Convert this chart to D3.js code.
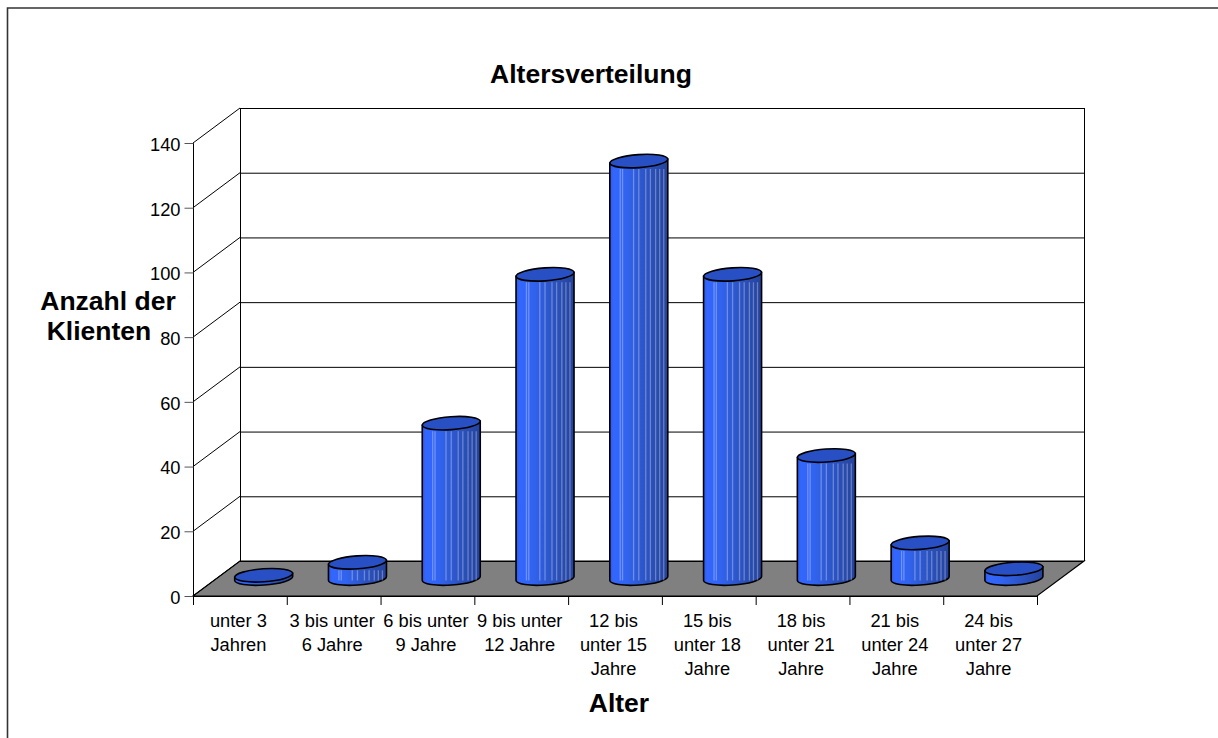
<!DOCTYPE html>
<html>
<head>
<meta charset="utf-8">
<style>
  html, body { margin: 0; padding: 0; background: #fff; overflow: hidden; }
  text { font-family: "Liberation Sans", Arial, sans-serif; fill: #000; }
</style>
<script src="https://cdn.jsdelivr.net/npm/d3@7"></script>
</head>
<body>
<svg id="chart" width="1218" height="738"></svg>
<script>
const categories = [
  ['unter 3', 'Jahren'],
  ['3 bis unter', '6 Jahre'],
  ['6 bis unter', '9 Jahre'],
  ['9 bis unter', '12 Jahre'],
  ['12 bis', 'unter 15', 'Jahre'],
  ['15 bis', 'unter 18', 'Jahre'],
  ['18 bis', 'unter 21', 'Jahre'],
  ['21 bis', 'unter 24', 'Jahre'],
  ['24 bis', 'unter 27', 'Jahre']
];
const values = [1, 5, 48, 94, 129, 94, 38, 11, 3];
const yTicks = [0, 20, 40, 60, 80, 100, 120, 140];

// front edge of the box, the back wall sits depth px up and to the right
const front = { left: 193, right: 1037, bottom: 596, top: 143 };
const depth = { x: 47, y: 35 };

const x = d3.scaleBand().domain(d3.range(categories.length)).range([front.left, front.right]);
const y = d3.scaleLinear().domain([0, 140]).range([front.bottom, front.top]);

const svg = d3.select('#chart');

// only the top and left edge of the frame are inside the picture
svg.append('path')
  .attr('d', 'M7.5,738V8H1218')
  .attr('fill', 'none').attr('stroke', '#333').attr('stroke-width', 1.6);

// horizontal shading of the cylinders
const stops = [
  [0, '#2f5ae0'], [0.06, '#3366ff'], [0.3, '#3163ee'], [0.55, '#2d57cc'], [0.8, '#294cb0'], [1, '#24429c']
];
const defs = svg.append('defs');
const grad = defs.append('linearGradient').attr('id', 'barFill');
grad.selectAll('stop').data(stops).join('stop')
  .attr('offset', d => d[0]).attr('stop-color', d => d[1]);

// floor
svg.append('path')
  .attr('d', d3.line()([
    [front.left, front.bottom],
    [front.left + depth.x, front.bottom - depth.y],
    [front.right + depth.x, front.bottom - depth.y],
    [front.right, front.bottom]
  ]) + 'Z')
  .attr('fill', '#808080').attr('stroke', '#000').attr('stroke-width', 1.2);

// walls
const grid = svg.append('g').attr('fill', 'none').attr('stroke', '#000').attr('stroke-width', 1);
grid.selectAll('.back').data(yTicks).join('line').attr('class', 'back')
  .attr('x1', front.left + depth.x).attr('x2', front.right + depth.x)
  .attr('y1', d => y(d) - depth.y + 0.5).attr('y2', d => y(d) - depth.y + 0.5);
grid.selectAll('.side').data(yTicks).join('line').attr('class', 'side')
  .attr('x1', front.left).attr('x2', front.left + depth.x)
  .attr('y1', d => y(d)).attr('y2', d => y(d) - depth.y);
grid.append('line')
  .attr('x1', front.left + depth.x + 0.5).attr('x2', front.left + depth.x + 0.5)
  .attr('y1', y(140) - depth.y).attr('y2', y(0) - depth.y);
grid.append('line')
  .attr('x1', front.right + depth.x + 0.5).attr('x2', front.right + depth.x + 0.5)
  .attr('y1', y(140) - depth.y).attr('y2', y(0) - depth.y);

// axes
const axisY = d3.axisLeft(y).tickValues(yTicks).tickSize(9).tickPadding(4);
const gy = svg.append('g').attr('transform', 'translate(193.5,0)').call(axisY);
gy.selectAll('text').attr('font-size', 18.3).attr('dy', '0.4em').style('font-family', '"Liberation Sans", Arial, sans-serif');
gy.select('.domain').attr('stroke', '#000').attr('d', `M0,${y(140)}V${y(0)}`);
gy.selectAll('.tick line').attr('stroke', '#555');

const baseAxis = svg.append('g');
baseAxis.append('line')
  .attr('x1', front.left).attr('x2', front.right)
  .attr('y1', front.bottom + 0.5).attr('y2', front.bottom + 0.5)
  .attr('stroke', '#000');
baseAxis.selectAll('.tick').data(d3.range(categories.length + 1)).join('line').attr('class', 'tick')
  .attr('x1', i => (i < categories.length ? x(i) : front.right) + 0.5)
  .attr('x2', i => (i < categories.length ? x(i) : front.right) + 0.5)
  .attr('y1', front.bottom).attr('y2', front.bottom + 9)
  .attr('stroke', '#000');

const catLabels = svg.append('g').attr('font-size', 18.3).attr('text-anchor', 'middle');
categories.forEach((lines, i) => {
  catLabels.append('text')
    .attr('x', x(i) + x.bandwidth() / 2 - 1.5)
    .selectAll('tspan').data(lines).join('tspan')
    .attr('x', x(i) + x.bandwidth() / 2 - 1.5)
    .attr('y', (d, k) => 627 + k * 24)
    .text(d => d);
});

// cylinders: body, then top ellipse, slightly tilted like the original
const rx = 29, ry = 6.5, tilt = -4;
const bars = svg.append('g').selectAll('g').data(values).join('g')
  .attr('transform', (d, i) => `translate(${x(i) + x.bandwidth() / 2 + depth.x / 2 + 0.3},${front.bottom - depth.y / 2})`);

const barHeight = d => y(0) - y(d);
const slope = Math.tan(tilt * Math.PI / 180) * rx;

bars.append('path')
  .attr('d', d => {
    const h = barHeight(d);
    return `M${-rx},${-slope}V${-h - slope}` +
      `L${rx},${-h + slope}V${slope}` +
      `A${rx},${ry} ${tilt} 0 1 ${-rx},${-slope}Z`;
  })
  .attr('fill', 'url(#barFill)').attr('stroke', '#000').attr('stroke-width', 1.6);

// pale vertical stripes on the shaded body
const stripeFracs = [0.18, 0.22, 0.41, 0.5, 0.62, 0.7, 0.79, 0.86, 0.93];
bars.each(function (d) {
  const h = barHeight(d);
  d3.select(this).selectAll('line.stripe').data(h > 12 ? stripeFracs : []).join('line')
    .attr('class', 'stripe')
    .attr('x1', f => -rx + f * 2 * rx).attr('x2', f => -rx + f * 2 * rx)
    .attr('y1', -h + 8).attr('y2', 2)
    .attr('stroke', '#fff').attr('stroke-opacity', 0.3).attr('stroke-width', 1.3);
});

bars.append('ellipse')
  .attr('cx', 0).attr('cy', d => -barHeight(d))
  .attr('rx', rx).attr('ry', ry)
  .attr('transform', d => `rotate(${tilt} 0 ${-barHeight(d)})`)
  .attr('fill', '#2850c4').attr('stroke', '#000').attr('stroke-width', 1.6);

// titles
svg.append('text').attr('x', 591).attr('y', 83).attr('text-anchor', 'middle')
  .attr('font-size', 26.5).attr('font-weight', 'bold').text('Altersverteilung');
svg.append('text').attr('x', 619).attr('y', 712).attr('text-anchor', 'middle')
  .attr('font-size', 26.5).attr('font-weight', 'bold').text('Alter');
const yt = svg.append('text').attr('text-anchor', 'middle').attr('font-size', 26.5).attr('font-weight', 'bold');
yt.append('tspan').attr('x', 108).attr('y', 310).text('Anzahl der');
yt.append('tspan').attr('x', 99).attr('y', 340).text('Klienten');
</script>
</body>
</html>
